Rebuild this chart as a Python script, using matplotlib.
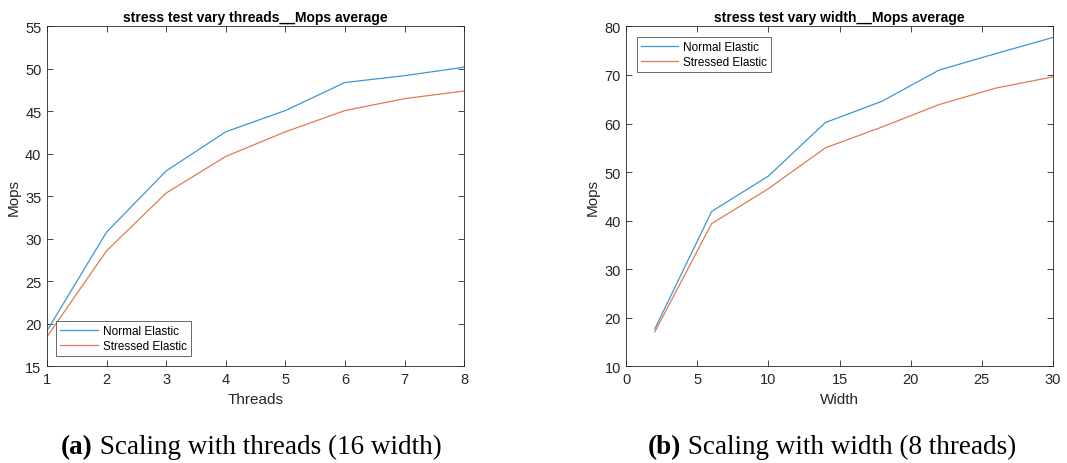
import matplotlib.pyplot as plt
from matplotlib.text import Annotation

# Scaling with threads (width fixed at 16)
threads = [1, 2, 3, 4, 5, 6, 7, 8]
threads_normal = [19.2, 30.8, 38.0, 42.6, 45.1, 48.4, 49.2, 50.2]
threads_stressed = [18.5, 28.6, 35.4, 39.7, 42.6, 45.1, 46.5, 47.4]

# Scaling with width (8 threads)
width = [2, 6, 10, 14, 18, 22, 26, 30]
width_normal = [17.7, 41.9, 49.2, 60.2, 64.6, 71.0, 74.4, 77.7]
width_stressed = [17.1, 39.4, 46.6, 55.0, 59.3, 63.9, 67.3, 69.6]

series_labels = ["Normal Elastic", "Stressed Elastic"]
captions = [("(a)", " Scaling with threads (16 width)"),
            ("(b)", " Scaling with width (8 threads)")]

BLUE = "#3d97d3"
ORANGE = "#e07a52"
AX_GRAY = "#262626"

plt.rcParams["font.family"] = ["Liberation Sans", "DejaVu Sans"]

fig = plt.figure(figsize=(10.67, 4.64), dpi=100)
ax1 = fig.add_axes([0.044, 0.208, 0.391, 0.733])
ax2 = fig.add_axes([0.587, 0.208, 0.3996, 0.733])


def matlab_style(ax):
    for s in ax.spines.values():
        s.set_color(AX_GRAY)
        s.set_linewidth(0.6)
    ax.tick_params(direction="in", top=True, right=True, length=4,
                   width=0.6, color=AX_GRAY, labelcolor=AX_GRAY,
                   labelsize=10.5, pad=4)


def boxed_legend(ax, loc, anchor):
    leg = ax.legend(loc=loc, bbox_to_anchor=anchor, fontsize=8.5,
                    fancybox=False, borderpad=0.35, handlelength=3.2,
                    handletextpad=0.4, labelspacing=0.25, borderaxespad=0)
    leg.get_frame().set_edgecolor(AX_GRAY)
    leg.get_frame().set_linewidth(0.6)
    return leg


ax1.plot(threads, threads_normal, color=BLUE, lw=0.9, label=series_labels[0])
ax1.plot(threads, threads_stressed, color=ORANGE, lw=0.9, label=series_labels[1])
ax1.set_xlim(1, 8)
ax1.set_ylim(15, 55)
ax1.set_xticks(range(1, 9))
ax1.set_yticks(range(15, 56, 5))
ax1.set_xlabel("Threads", fontsize=11, color=AX_GRAY, labelpad=4)
ax1.set_ylabel("Mops", fontsize=11, color=AX_GRAY, labelpad=3)
ax1.set_title("stress test vary threads__Mops average", fontsize=10,
              fontweight="bold", pad=4)
matlab_style(ax1)
boxed_legend(ax1, "lower left", (0.022, 0.03))

ax2.plot(width, width_normal, color=BLUE, lw=0.9, label=series_labels[0])
ax2.plot(width, width_stressed, color=ORANGE, lw=0.9, label=series_labels[1])
ax2.set_xlim(0, 30)
ax2.set_ylim(10, 80)
ax2.set_xticks(range(0, 31, 5))
ax2.set_yticks(range(10, 81, 10))
ax2.set_xlabel("Width", fontsize=11, color=AX_GRAY, labelpad=4)
ax2.set_ylabel("Mops", fontsize=11, color=AX_GRAY, labelpad=3)
ax2.set_title("stress test vary width__Mops average", fontsize=10,
              fontweight="bold", pad=4)
matlab_style(ax2)
boxed_legend(ax2, "upper left", (0.024, 0.97))

# subfigure captions: bold tag followed by the plain text
for (tag, text), x0 in zip(captions, [0.057, 0.607]):
    t = fig.text(x0, 0.022, tag, fontsize=19.5, fontweight="bold",
                 family="Liberation Serif", ha="left", va="baseline")
    fig.add_artist(Annotation(text, xy=(1, 0), xycoords=t,
                              fontsize=19.5, family="Liberation Serif",
                              ha="left", va="bottom"))

fig.savefig("out.png", dpi=100)
